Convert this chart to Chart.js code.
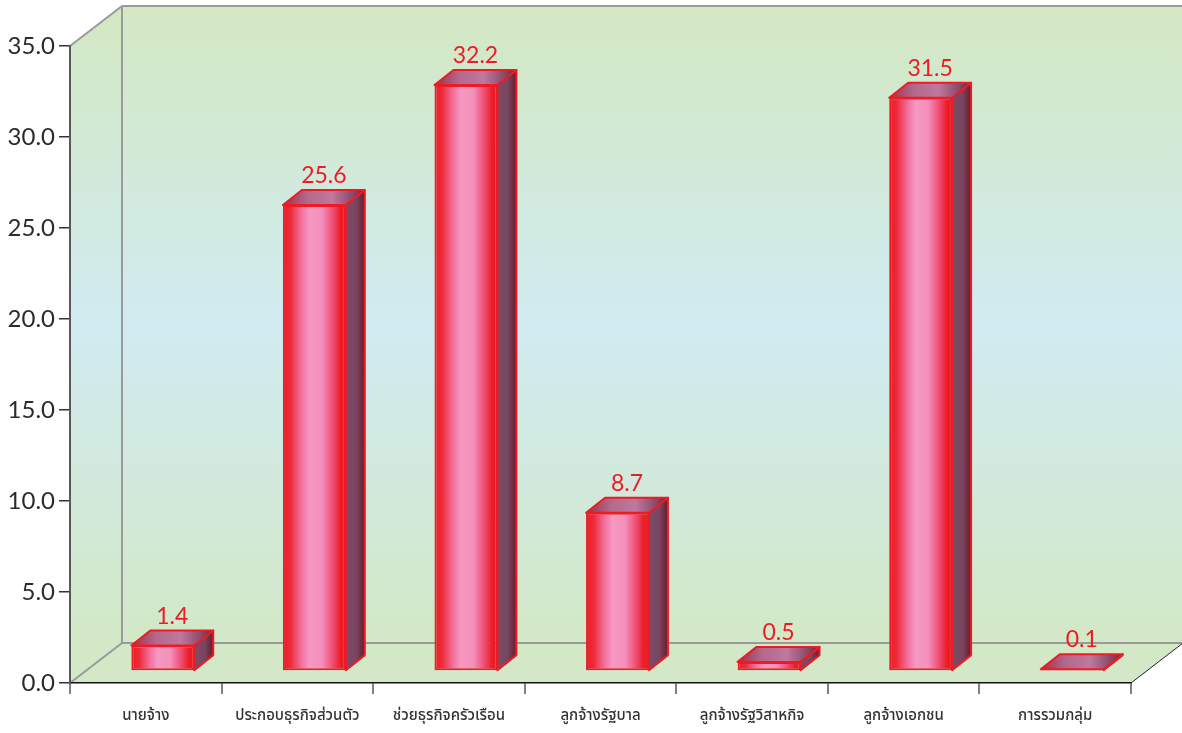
<!DOCTYPE html>
<html lang="th">
<head>
<meta charset="utf-8">
<title>chart</title>
<script src="https://cdn.jsdelivr.net/npm/chart.js@4"></script>
<style>
  html, body { margin: 0; padding: 0; background: #fff; }
  canvas { display: block; }
</style>
</head>
<body>
<canvas id="grafico" width="1182" height="733"></canvas>
<script>
const categories = ['นายจ้าง', 'ประกอบธุรกิจส่วนตัว', 'ช่วยธุรกิจครัวเรือน', 'ลูกจ้างรัฐบาล', 'ลูกจ้างรัฐวิสาหกิจ', 'ลูกจ้างเอกชน', 'การรวมกลุ่ม']
const values = [1.4, 25.6, 32.2, 8.7, 0.5, 31.5, 0.1]
const valueLabels = ['1.4', '25.6', '32.2', '8.7', '0.5', '31.5', '0.1']
const yTickLabels = ['0.0', '5.0', '10.0', '15.0', '20.0', '25.0', '30.0', '35.0']

// box depth of the walls, and of the bars
const wallX = 52, wallY = 40
const barX = 19, barY = 15
// bars stand a bit inside the floor
const shiftX = 17, shiftY = -12
const red = '#ed1c24'

function hGradient(ctx, x0, x1, stops) {
    const g = ctx.createLinearGradient(x0, 0, x1, 0)
    stops.forEach(s => g.addColorStop(s[0], s[1]))
    return g
}

function poly(ctx, pts) {
    ctx.beginPath()
    pts.forEach((p, i) => i ? ctx.lineTo(p[0], p[1]) : ctx.moveTo(p[0], p[1]))
    ctx.closePath()
}

function line(ctx, x0, y0, x1, y1, color, width) {
    ctx.strokeStyle = color
    ctx.lineWidth = width
    ctx.beginPath()
    ctx.moveTo(x0, y0)
    ctx.lineTo(x1, y1)
    ctx.stroke()
}

const walls = {
    id: 'walls',
    beforeDraw(chart) {
        const ctx = chart.ctx
        const a = chart.chartArea
        const bx = a.left + wallX, tp = a.top - wallY, bt = a.bottom - wallY

        const g = ctx.createLinearGradient(0, tp, 0, bt)
        g.addColorStop(0, '#d3e8c2')
        g.addColorStop(0.5, '#d1ebf1')
        g.addColorStop(1, '#d2e8c6')

        ctx.save()
        ctx.fillStyle = g
        poly(ctx, [[a.left, a.top], [bx, tp], [bx, bt], [a.left, a.bottom]])
        ctx.fill()
        ctx.fillRect(bx, tp, chart.width - bx, bt - tp)
        ctx.fillStyle = '#d2e8c6'
        poly(ctx, [[a.left, a.bottom], [a.right, a.bottom], [a.right + wallX, bt], [bx, bt]])
        ctx.fill()

        line(ctx, bx, tp, bx, bt, '#9a9a9a', 2)
        line(ctx, bx, tp, chart.width, tp, '#9a9a9a', 2)
        line(ctx, bx, bt, chart.width, bt, '#9a9a9a', 2)
        line(ctx, a.left, a.top, bx, tp, '#9a9a9a', 2)
        line(ctx, a.left, a.bottom, bx, bt, '#9a9a9a', 2)
        line(ctx, a.right, a.bottom, a.right + wallX, bt, '#222', 1)
        ctx.restore()
    }
}

const bars3d = {
    id: 'bars3d',
    beforeDatasetsDraw(chart) {
        const ctx = chart.ctx
        ctx.save()
        ctx.translate(shiftX, shiftY)
        chart.getDatasetMeta(0).data.forEach(el => {
            const l = el.x - el.width / 2, r = el.x + el.width / 2
            const t = el.y, b = el.base

            ctx.lineWidth = 2
            ctx.strokeStyle = red
            ctx.lineJoin = 'round'

            // right side
            poly(ctx, [[r, t], [r + barX, t - barY], [r + barX, b - barY], [r, b]])
            ctx.fillStyle = hGradient(ctx, r, r + barX, [[0, '#7d4c68'], [0.55, '#7a4560'], [1, '#6a1a2a']])
            ctx.fill()
            ctx.stroke()

            // top
            poly(ctx, [[l, t], [l + barX, t - barY], [r + barX, t - barY], [r, t]])
            ctx.fillStyle = hGradient(ctx, l, r + barX, [[0, '#a02f48'], [0.3, '#b4688c'], [0.6, '#bf789f'], [0.85, '#8c4a68'], [1, '#6a2238']])
            ctx.fill()
            ctx.stroke()
        })
    },
    afterDatasetsDraw(chart) {
        const ctx = chart.ctx
        ctx.font = '23px Lato'
        ctx.fillStyle = red
        ctx.textAlign = 'center'
        ctx.textBaseline = 'alphabetic'
        chart.getDatasetMeta(0).data.forEach((el, i) => {
            ctx.fillText(valueLabels[i], el.x + barX / 2, el.y - barY - 7)
        })
        ctx.restore()
    }
}

const config = {
    type: 'bar',
    data: {
        labels: categories,
        datasets: [{
            data: values,
            barPercentage: 0.415,
            categoryPercentage: 1,
            borderWidth: 2,
            borderColor: red,
            borderSkipped: false,
            clip: false,
            backgroundColor: c => {
                const chart = c.chart
                if (!chart.chartArea || c.dataIndex === undefined) return red
                const mid = chart.scales.x.getPixelForValue(c.dataIndex)
                const w = chart.scales.x.width / categories.length * 0.415
                return hGradient(chart.ctx, mid - w / 2, mid + w / 2, [
                    [0, '#ed1c24'], [0.12, '#ed2a3a'], [0.3, '#f272a0'], [0.42, '#f598c2'],
                    [0.62, '#f490bc'], [0.8, '#ef4a70'], [0.92, '#ed1c24'], [1, '#ed1c24']
                ])
            }
        }]
    },
    options: {
        responsive: false,
        animation: false,
        layout: { padding: { top: 46, right: 51, left: 0, bottom: 0 } },
        plugins: {
            legend: { display: false },
            tooltip: { enabled: false }
        },
        scales: {
            x: {
                afterFit: s => { s.height = 50 },
                grid: { drawOnChartArea: false, color: '#808080', tickLength: 11, lineWidth: 2 },
                border: { color: '#111', width: 1.5 },
                ticks: {
                    autoSkip: false,
                    maxRotation: 0,
                    padding: 14,
                    color: '#333',
                    font: { family: "'Noto Sans Thai', 'Noto Sans', sans-serif", size: 15, weight: '500' }
                }
            },
            y: {
                min: 0,
                max: 35,
                afterFit: s => { s.width = 70 },
                grid: { drawOnChartArea: false, color: '#333', tickLength: 11, lineWidth: 1.5 },
                border: { color: '#595959', width: 2 },
                ticks: {
                    stepSize: 5,
                    padding: 4,
                    color: '#2b2b2b',
                    font: { family: 'Lato', size: 24 },
                    callback: (v, i) => yTickLabels[i]
                }
            }
        }
    },
    plugins: [walls, bars3d]
}

const graph = new Chart(document.getElementById('grafico'), config)
</script>
</body>
</html>
